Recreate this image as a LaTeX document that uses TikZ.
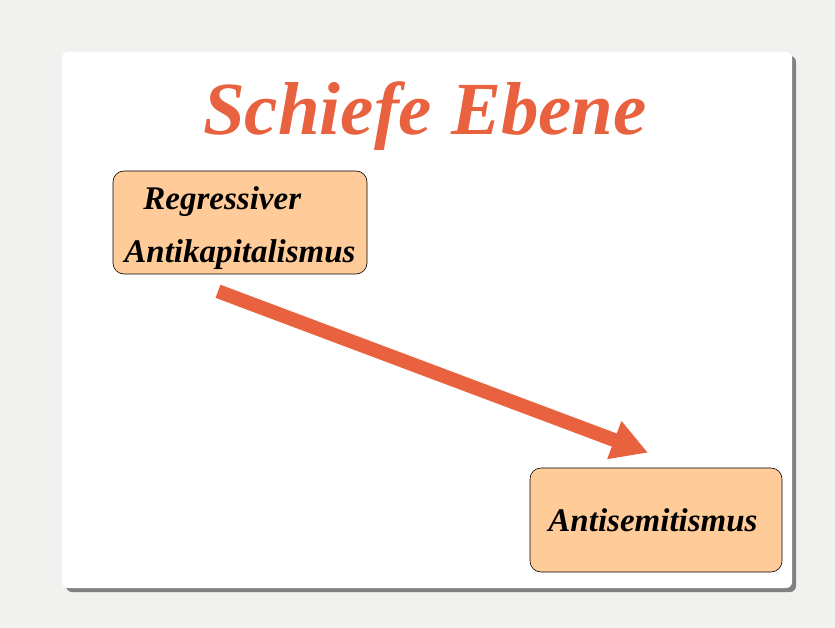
\documentclass[tikz,border=0pt]{standalone}
\usepackage{fontspec}
\setmainfont{Liberation Serif}
\usetikzlibrary{arrows.meta,shadows}

\begin{document}
\begin{tikzpicture}[x=1pt,y=-1pt]
    % set up palette
    \definecolor{paper}{RGB}{241,241,239}
    \definecolor{slideRed}{RGB}{233,98,64}
    \definecolor{boxOrange}{RGB}{255,204,153}
    \tikzstyle{every node}=[font=\bfseries\itshape]
    \tikzstyle{textbox}=[draw=black, line width=0.6pt, fill=boxOrange, rounded corners=11pt, inner sep=0pt, font=\fontsize{33}{53}\bfseries\itshape]

    % background and slide card
    \useasboundingbox (0,0) rectangle (835,628);
    \fill[paper] (0,0) rectangle (835,628);
    \fill[white, rounded corners=6pt, drop shadow={shadow xshift=4pt, shadow yshift=-4pt, fill=black!60, opacity=0.8}] (62,52) rectangle (792,588);

    % title
    \node[anchor=base, text=slideRed, font=\fontsize{75}{80}\bfseries\itshape] (title) at (425,135) {Schiefe Ebene};

    % label outcomes
    \node[textbox, minimum width=254pt, minimum height=103pt, align=left, text height=88pt] (regr) at (240,222.5) {\hspace*{19pt}Regressiver\\Antikapitalismus};
    \node[textbox, minimum width=252pt, minimum height=104pt] (anti) at (656,520) {Antisemitismus\hspace*{6pt}};

    % draw the slope
    \draw[slideRed, line width=14pt, -{Triangle[length=36pt,width=38pt]}] ([xshift=-22pt,yshift=-17pt]regr.south) -- ([xshift=-8pt,yshift=15pt]anti.north);

\end{tikzpicture}
\end{document}
